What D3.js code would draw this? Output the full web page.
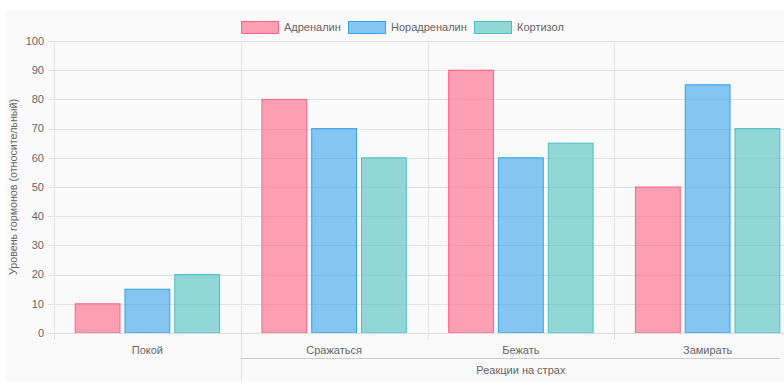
<!DOCTYPE html>
<html>
<head>
<meta charset="utf-8">
<script src="https://cdn.jsdelivr.net/npm/d3@7"></script>
<style>
    body { margin: 0; background: #fff; }
    svg { display: block; font-family: "Liberation Sans", Arial, sans-serif; }
</style>
</head>
<body>
<div id="chart"></div>
<script>
var categories = ["Покой", "Сражаться", "Бежать", "Замирать"];
var seriesNames = ["Адреналин", "Норадреналин", "Кортизол"];
var adrenaline = [10, 80, 90, 50];
var noradrenaline = [15, 70, 60, 85];
var cortisol = [20, 60, 65, 70];
var yTicks = [0, 10, 20, 30, 40, 50, 60, 70, 80, 90, 100];
var groupLabel = "Реакции на страх";
var groupFrom = "Сражаться";
var yTitle = "Уровень гормонов (относительный)";

var seriesValues = [adrenaline, noradrenaline, cortisol];
var fills = ["rgba(255,99,132,0.6)", "rgba(54,162,235,0.6)", "rgba(75,192,192,0.6)"];
var strokes = ["rgb(255,99,132)", "rgb(54,162,235)", "rgb(75,192,192)"];

var svg_width = 784, svg_height = 391;
var margin = {top: 41, left: 54, bottom: 333};
var plotRight = 801;  // last category runs past the window edge
var fontSize = 11;

var svg = d3.select("#chart").append("svg")
    .attr("width", svg_width)
    .attr("height", svg_height);

// panel background
svg.append("rect")
    .attr("x", 6).attr("y", 10)
    .attr("width", svg_width - 6).attr("height", 372)
    .attr("fill", "#fafafa");

var x0 = d3.scaleBand().domain(categories).range([margin.left, plotRight]);
var x1 = d3.scaleBand().domain(seriesNames)
    .range([0.1 * x0.bandwidth(), 0.9 * x0.bandwidth()])
    .paddingInner(0.1).paddingOuter(0.05);
var y = d3.scaleLinear().domain([0, 100]).range([margin.bottom, margin.top]);

var gridColor = "#e4e4e4";

// horizontal grid + y ticks
var yAxis = svg.append("g");
yTicks.forEach(function(t) {
    yAxis.append("line")
        .attr("x1", margin.left - 6).attr("x2", svg_width)
        .attr("y1", Math.round(y(t)) + 0.5).attr("y2", Math.round(y(t)) + 0.5)
        .attr("stroke", gridColor);
    yAxis.append("text")
        .attr("x", margin.left - 10).attr("y", y(t))
        .attr("dy", "0.35em")
        .attr("text-anchor", "end")
        .attr("font-size", fontSize)
        .attr("fill", "#666")
        .text(t);
});

// vertical grid at category boundaries
categories.forEach(function(c, i) {
    var xx = Math.round(x0(c)) + 0.5;
    var bottom = c === groupFrom ? 381 : margin.bottom + 7;
    svg.append("line")
        .attr("x1", xx).attr("x2", xx)
        .attr("y1", margin.top).attr("y2", bottom)
        .attr("stroke", gridColor);
});

// bars
seriesNames.forEach(function(s, si) {
    svg.append("g").selectAll("rect")
        .data(categories)
      .enter().append("rect")
        .attr("x", function(c) { return x0(c) + x1(s); })
        .attr("y", function(c, i) { return y(seriesValues[si][i]); })
        .attr("width", x1.bandwidth())
        .attr("height", function(c, i) { return y(0) - y(seriesValues[si][i]); })
        .attr("fill", fills[si])
        .attr("stroke", strokes[si])
        .attr("stroke-width", 1);
});

// axis line at zero
svg.append("line")
    .attr("x1", margin.left).attr("x2", svg_width)
    .attr("y1", y(0) + 0.5).attr("y2", y(0) + 0.5)
    .attr("stroke", "#ddd");

// category labels
categories.forEach(function(c) {
    svg.append("text")
        .attr("x", x0(c) + x0.bandwidth() / 2)
        .attr("y", 354)
        .attr("text-anchor", "middle")
        .attr("font-size", fontSize)
        .attr("fill", "#666")
        .text(c);
});

// group label
var gx1 = x0(groupFrom), gx2 = plotRight;
svg.append("line")
    .attr("x1", gx1).attr("x2", svg_width - 4)
    .attr("y1", 358.5).attr("y2", 358.5)
    .attr("stroke", "#ccc");
svg.append("text")
    .attr("x", (gx1 + gx2) / 2)
    .attr("y", 374)
    .attr("text-anchor", "middle")
    .attr("font-size", fontSize)
    .attr("fill", "#666")
    .text(groupLabel);

// y title
svg.append("text")
    .attr("transform", "translate(17," + ((margin.top + margin.bottom) / 2) + ") rotate(-90)")
    .attr("text-anchor", "middle")
    .attr("font-size", 10.7)
    .attr("fill", "#666")
    .text(yTitle);

// legend
var legendX = [241, 348, 474];
seriesNames.forEach(function(s, si) {
    var g = svg.append("g").attr("transform", "translate(" + legendX[si] + ",21)");
    g.append("rect")
        .attr("x", 0.5).attr("y", 0.5)
        .attr("width", 37).attr("height", 12)
        .attr("fill", fills[si])
        .attr("stroke", strokes[si]);
    g.append("text")
        .attr("x", 43).attr("y", 6.5)
        .attr("dy", "0.35em")
        .attr("font-size", fontSize)
        .attr("fill", "#666")
        .text(s);
});
</script>
</body>
</html>
